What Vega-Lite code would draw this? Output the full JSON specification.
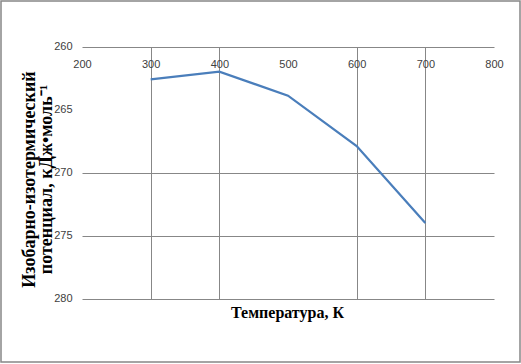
{
  "$schema": "https://vega.github.io/schema/vega-lite/v6.json",
  "width": 519,
  "height": 361,
  "autosize": {"type": "none"},
  "padding": {"left": 1, "top": 1, "right": 1, "bottom": 2},
  "background": "white",
  "data": {
    "values": [
      {"T": 300, "G": 262.6},
      {"T": 400, "G": 262.0},
      {"T": 500, "G": 263.9},
      {"T": 600, "G": 267.9},
      {"T": 700, "G": 274.0}
    ]
  },
  "mark": {"type": "line", "color": "#4A7EBB", "strokeWidth": 2.25},
  "encoding": {
    "x": {
      "field": "T",
      "type": "quantitative",
      "scale": {"domain": [200, 800], "range": [81, 493], "nice": false, "zero": false},
      "axis": {
        "orient": "top",
        "offset": -45.5,
        "values": [200, 300, 400, 500, 600, 700, 800],
        "domain": false,
        "ticks": false,
        "labelPadding": -23,
        "labelBaseline": "bottom",
        "labelFont": "Liberation Sans",
        "labelFontSize": 11,
        "labelColor": "#404040",
        "labelFlush": false,
        "grid": true,
        "gridColor": "#878787",
        "gridWidth": 1,
        "gridOpacity": {"condition": {"test": "datum.value === 200 || datum.value === 500 || datum.value === 800", "value": 0}, "value": 1},
        "title": "Температура, К",
        "titleFont": "Liberation Serif",
        "titleFontSize": 16,
        "titleFontWeight": "bold",
        "titleColor": "#000000",
        "titleX": 286,
        "titleY": 271,
        "titleAngle": 0,
        "titleAlign": "center",
        "titleBaseline": "alphabetic"
      }
    },
    "y": {
      "field": "G",
      "type": "quantitative",
      "scale": {"domain": [260, 280], "range": [45.5, 297.5], "nice": false, "zero": false},
      "axis": {
        "orient": "left",
        "offset": -81,
        "values": [260, 265, 270, 275, 280],
        "domain": false,
        "ticks": false,
        "labelPadding": 10,
        "labelFont": "Liberation Sans",
        "labelFontSize": 11,
        "labelColor": "#404040",
        "labelFlush": false,
        "grid": true,
        "gridColor": "#878787",
        "gridWidth": 1,
        "gridOpacity": {"condition": {"test": "datum.value === 265", "value": 0}, "value": 1},
        "title": ["Изобарно-изотермический", "потенциал, кДж•моль⁻¹"],
        "titleFont": "Liberation Serif",
        "titleFontSize": 18,
        "titleFontWeight": "bold",
        "titleColor": "#000000",
        "titleAngle": 270,
        "titleX": -48,
        "titleY": 178,
        "titleAlign": "center",
        "titleBaseline": "alphabetic",
        "titleLineHeight": 17
      }
    }
  },
  "config": {
    "view": {"stroke": "#878787", "strokeWidth": 1.5}
  }
}
